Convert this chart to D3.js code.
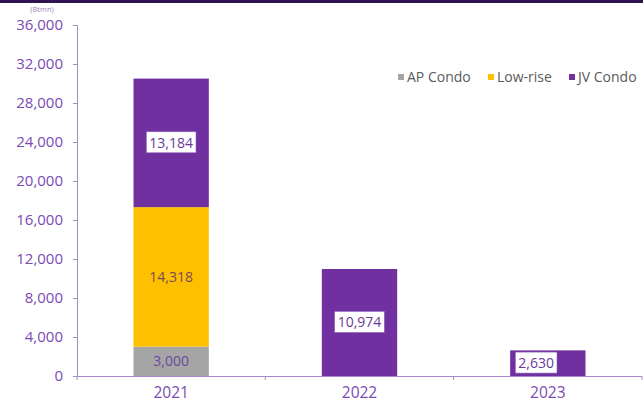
<!DOCTYPE html>
<html>
<head>
<meta charset="utf-8">
<script src="https://cdn.jsdelivr.net/npm/d3@7"></script>
<style>
  body { margin: 0; background: #fff; }
  text { font-family: "Open Sans", sans-serif; }
</style>
</head>
<body>
<div id="chart"></div>
<script>
var years = ['2021', '2022', '2023'];
var seriesNames = ['AP Condo', 'Low-rise', 'JV Condo'];
var apCondo = [3000, 0, 0];
var lowRise = [14318, 0, 0];
var jvCondo = [13184, 10974, 2630];
var yTicks = [0, 4000, 8000, 12000, 16000, 20000, 24000, 28000, 32000, 36000];
var colors = ['#a5a5a5', '#ffc000', '#7030a0'];

var w = 643;
var h = 404;
var svg = d3.select('#chart').append('svg').attr('width', w).attr('height', h);

// dark band at top
svg.append('rect').attr('x', 0).attr('y', 0).attr('width', w).attr('height', 3).attr('fill', '#2e1450');

var x0 = 77, x1 = 642, yTop = 25, yBot = 376;
var x = d3.scaleBand().domain(years).range([x0, x1]).paddingInner(0.6).paddingOuter(0.3);
var y = d3.scaleLinear().domain([0, 36000]).range([yBot, yTop]);

var rows = years.map(function (yr, i) {
  return { year: yr, 'AP Condo': apCondo[i], 'Low-rise': lowRise[i], 'JV Condo': jvCondo[i] };
});
var stacked = d3.stack().keys(seriesNames)(rows);

var axisColor = '#a58bc9';
var labelColor = '#7a4bb3';

// y axis
var yAxis = svg.append('g').attr('transform', 'translate(' + x0 + ',0)')
  .call(d3.axisLeft(y).tickValues(yTicks).tickSize(4).tickFormat(d3.format(',')));
yAxis.select('.domain').attr('stroke', axisColor);
yAxis.selectAll('.tick line').attr('stroke', axisColor);
yAxis.selectAll('.tick text').attr('fill', labelColor).attr('font-size', 15)
  .attr('font-family', '"Open Sans", sans-serif').attr('x', -14);

svg.append('text').attr('x', 42).attr('y', 12).attr('text-anchor', 'middle')
  .attr('font-size', 7.5).attr('fill', '#9a86c0').text('(Btmn)');

// bars
svg.append('g').selectAll('g')
  .data(stacked)
  .enter()
  .append('g')
  .attr('fill', function (d, i) { return colors[i]; })
  .selectAll('rect')
  .data(function (d) { return d; })
  .enter()
  .append('rect')
  .attr('x', function (d) { return x(d.data.year); })
  .attr('y', function (d) { return y(d[1]); })
  .attr('width', x.bandwidth())
  .attr('height', function (d) { return y(d[0]) - y(d[1]); });

// x axis (categories with ticks at boundaries)
svg.append('line').attr('x1', x0).attr('x2', x1).attr('y1', yBot + 0.5).attr('y2', yBot + 0.5)
  .attr('stroke', axisColor);
years.concat(['end']).forEach(function (d, i) {
  var tx = x0 + i * (x1 - x0) / years.length;
  svg.append('line').attr('x1', tx).attr('x2', tx).attr('y1', yBot).attr('y2', yBot + 4)
    .attr('stroke', axisColor);
});
svg.append('g').selectAll('text')
  .data(years)
  .enter()
  .append('text')
  .attr('x', function (d) { return x(d) + x.bandwidth() / 2; })
  .attr('y', 398)
  .attr('text-anchor', 'middle')
  .attr('font-size', 15.5)
  .attr('fill', labelColor)
  .text(function (d) { return d; });

// value labels
var fmt = d3.format(',');
stacked.forEach(function (layer, li) {
  layer.forEach(function (d) {
    var v = d[1] - d[0];
    if (!v) return;
    var cx = x(d.data.year) + x.bandwidth() / 2;
    if (d.data.year === '2023') cx = x(d.data.year) + 26;
    var cy = (y(d[0]) + y(d[1])) / 2;
    var txt = svg.append('text').attr('x', cx).attr('y', cy).attr('dy', '0.35em')
      .attr('text-anchor', 'middle').attr('font-size', 14)
      .attr('fill', li === 2 ? '#6a3a9a' : (li === 1 ? '#7a4a5a' : '#6a4aa0'))
      .text(fmt(v));
    if (li === 2) {
      var bb = txt.node().getBBox();
      svg.insert('rect', function () { return txt.node(); })
        .attr('x', bb.x - 3).attr('y', bb.y - 1)
        .attr('width', bb.width + 6).attr('height', bb.height + 2)
        .attr('fill', '#fff').attr('stroke', '#8a66bb').attr('stroke-width', 0.6);
    }
  });
});

// legend
var legX = [398, 488, 569];
var legend = svg.append('g').selectAll('g')
  .data(seriesNames)
  .enter()
  .append('g')
  .attr('transform', function (d, i) { return 'translate(' + legX[i] + ',77)'; });
legend.append('rect').attr('x', 0).attr('y', -3).attr('width', 6).attr('height', 6)
  .attr('fill', function (d, i) { return colors[i]; });
legend.append('text').attr('x', 9).attr('y', 0).attr('dy', '0.35em')
  .attr('font-size', 14).attr('fill', '#5a5a5a')
  .text(function (d) { return d; });
</script>
</body>
</html>
